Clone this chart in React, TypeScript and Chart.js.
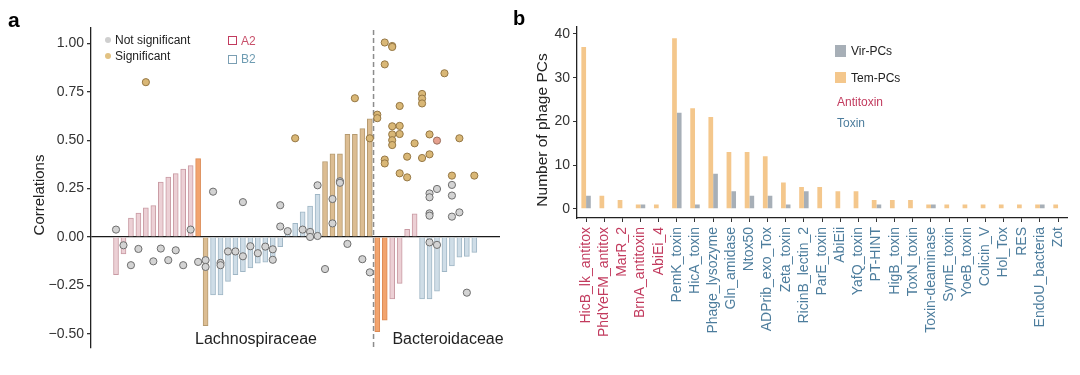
import React, { useEffect, useRef } from 'react';
import { Chart, registerables } from 'chart.js';
Chart.register(...registerables);

const FONT = '"Liberation Sans", Arial, Helvetica, sans-serif';

// ---------- Panel a data ----------
const corrValues = [
  -0.195, -0.088, 0.098, 0.124, 0.15, 0.162, 0.283, 0.31, 0.327, 0.351, 0.369, 0.405,
  -0.458, -0.3, -0.3, -0.23, -0.195, -0.18, -0.16, -0.136, -0.13, -0.11, -0.05, 0.035,
  0.07, 0.13, 0.16, 0.22, 0.39, 0.43, 0.43, 0.53, 0.53, 0.56, 0.61,
  -0.49, -0.43, -0.32, -0.24, 0.04, 0.12, -0.32, -0.32, -0.28, -0.18, -0.15, -0.105, -0.1, -0.08,
];
const corrGroup = [
  'A2', 'A2', 'A2', 'A2', 'A2', 'A2', 'A2', 'A2', 'A2', 'A2', 'A2', 'A2',
  'B2', 'B2', 'B2', 'B2', 'B2', 'B2', 'B2', 'B2', 'B2', 'B2', 'B2', 'B2',
  'B2', 'B2', 'B2', 'B2', 'B2', 'B2', 'B2', 'B2', 'B2', 'B2', 'B2',
  'A2', 'A2', 'A2', 'A2', 'A2', 'A2', 'B2', 'B2', 'B2', 'B2', 'B2', 'B2', 'B2', 'B2',
];
const corrSig = [
  0, 0, 0, 0, 0, 0, 0, 0, 0, 0, 0, 1,
  1, 0, 0, 0, 0, 0, 0, 0, 0, 0, 0, 0,
  0, 0, 0, 0, 1, 1, 1, 1, 1, 1, 1,
  1, 1, 0, 0, 0, 0, 0, 0, 0, 0, 0, 0, 0, 0,
];
const nsIdx = [0, 1, 2, 3, 5, 6, 7, 8, 9, 10, 11, 12, 12, 13, 14, 14, 15, 16, 17, 17, 18, 19, 20, 21, 21, 22, 22, 23, 25, 26, 26, 27, 27, 28, 29, 29, 30, 30, 31, 33, 34, 42, 42, 42, 42, 42, 43, 43, 45, 45, 45, 46, 47];
const nsVal = [0.038, -0.043, -0.146, -0.062, -0.126, -0.06, -0.12, -0.069, -0.146, 0.038, -0.129, -0.12, -0.155, 0.234, -0.134, -0.146, -0.075, -0.075, 0.18, -0.1, -0.048, -0.084, -0.05, -0.064, -0.118, 0.164, 0.054, 0.03, 0.038, 0.026, 0.0, 0.267, 0.005, -0.166, 0.196, 0.07, 0.288, 0.28, -0.036, -0.115, -0.183, 0.225, 0.205, 0.122, 0.11, -0.028, 0.248, -0.041, 0.269, 0.214, 0.105, 0.127, -0.288];
const sigIdx = [4, 24, 32, 34, 35, 35, 36, 36, 36, 36, 37, 37, 37, 37, 37, 37, 38, 38, 38, 38, 39, 39, 40, 41, 41, 41, 41, 42, 42, 44, 45, 46, 48];
const sigVal = [0.8, 0.51, 0.717, 0.51, 0.632, 0.614, 1.005, 0.892, 0.4, 0.38, 0.987, 0.982, 0.572, 0.53, 0.5, 0.475, 0.677, 0.574, 0.532, 0.329, 0.415, 0.308, 0.484, 0.739, 0.715, 0.69, 0.408, 0.53, 0.427, 0.846, 0.317, 0.51, 0.317];
const mixIdx = [43];
const mixVal = [0.498];
const corrTicks = [-0.5, -0.25, 0, 0.25, 0.5, 0.75, 1.0];
const dividerIndex = 34.5;

// ---------- Panel b data ----------
const pcLabels = [
  'HicB_lk_antitox', 'PhdYeFM_antitox', 'MarR_2', 'BrnA_antitoxin', 'AbiEi_4',
  'PemK_toxin', 'HicA_toxin', 'Phage_lysozyme', 'Gln_amidase', 'Ntox50', 'ADPrib_exo_Tox',
  'Zeta_toxin', 'RicinB_lectin_2', 'ParE_toxin', 'AbiEii', 'YafQ_toxin', 'PT-HINT',
  'HigB_toxin', 'ToxN_toxin', 'Toxin-deaminase', 'SymE_toxin', 'YoeB_toxin', 'Colicin_V',
  'Hol_Tox', 'RES', 'EndoU_bacteria', 'Zot',
];
const pcType = [
  'Antitoxin', 'Antitoxin', 'Antitoxin', 'Antitoxin', 'Antitoxin',
  'Toxin', 'Toxin', 'Toxin', 'Toxin', 'Toxin', 'Toxin', 'Toxin', 'Toxin', 'Toxin', 'Toxin',
  'Toxin', 'Toxin', 'Toxin', 'Toxin', 'Toxin', 'Toxin', 'Toxin', 'Toxin', 'Toxin', 'Toxin',
  'Toxin', 'Toxin',
];
const temPCs = [37, 3, 2, 1, 1, 39, 23, 21, 13, 13, 12, 6, 5, 5, 4, 4, 2, 2, 2, 1, 1, 1, 1, 1, 1, 1, 1];
const virPCs = [3, 0, 0, 1, 0, 22, 1, 8, 4, 3, 3, 1, 4, 0, 0, 0, 1, 0, 0, 1, 0, 0, 0, 0, 0, 1, 0];
const pcTicks = [0, 10, 20, 30, 40];

// ---------- colours ----------
const C_A2 = '#ecd0d5';
const C_A2_B = '#c99aa3';
const C_B2 = '#cfdde7';
const C_B2_B = '#9fb6c5';
const C_A2_SIG = '#f2a46e';
const C_A2_SIG_B = '#dc8a54';
const C_B2_SIG = '#dcbd92';
const C_B2_SIG_B = '#b59a70';
const C_TEM = '#f4c78c';
const C_VIR = '#a7afb7';
const C_ANTI = '#c23b5e';
const C_TOX = '#4d7d9d';

const fmtCorr = (v: number) => (v < 0 ? '\u2212' + Math.abs(v).toFixed(2) : v.toFixed(2));

const dividerPlugin = {
  id: 'divider',
  afterDatasetDraw(chart: any, args: any) {
    if (chart.data.datasets[args.index].type !== 'bar') return;
    const { ctx, chartArea, scales } = chart;
    const x = scales.x.getPixelForValue(dividerIndex);
    ctx.save();
    ctx.strokeStyle = '#8c8c8c';
    ctx.lineWidth = 1.5;
    ctx.setLineDash([5, 3]);
    ctx.beginPath();
    ctx.moveTo(x, chartArea.top + 2);
    ctx.lineTo(x, chartArea.bottom);
    ctx.stroke();
    ctx.restore();
  },
};

function Txt(props: { x: number; y: number; size: number; color?: string; bold?: boolean; center?: boolean; rotate?: boolean; children: any }) {
  const { x, y, size, color = '#222', bold, center, rotate, children } = props;
  const tr = rotate ? 'translate(-50%,-50%) rotate(-90deg)' : center ? 'translate(-50%,-50%)' : 'translate(0,-50%)';
  return (
    <div style={{ position: 'absolute', left: x, top: y, transform: tr, fontSize: size, color, fontWeight: bold ? 700 : 400, whiteSpace: 'nowrap', lineHeight: 1, fontFamily: FONT }}>
      {children}
    </div>
  );
}

export default function App() {
  const refA = useRef<HTMLCanvasElement>(null);
  const refB = useRef<HTMLCanvasElement>(null);

  useEffect(() => {
    const barColors = corrValues.map((_, i) => corrGroup[i] === 'A2' ? (corrSig[i] ? C_A2_SIG : C_A2) : (corrSig[i] ? C_B2_SIG : C_B2));
    const barBorders = corrValues.map((_, i) => corrGroup[i] === 'A2' ? (corrSig[i] ? C_A2_SIG_B : C_A2_B) : (corrSig[i] ? C_B2_SIG_B : C_B2_B));
    const pts = (idx: number[], val: number[]) => idx.map((x, i) => ({ x, y: val[i] }));

    const chartA = new Chart(refA.current as HTMLCanvasElement, {
      type: 'bar',
      data: {
        datasets: [
          {
            type: 'scatter',
            data: pts(nsIdx, nsVal),
            backgroundColor: '#d3d3d3',
            borderColor: '#6e6e6e',
            pointRadius: 3.6,
            borderWidth: 1,
            order: 1,
          } as any,
          {
            type: 'scatter',
            data: pts(sigIdx, sigVal),
            backgroundColor: '#d9b776',
            borderColor: '#957744',
            pointRadius: 3.6,
            borderWidth: 1,
            order: 1,
          } as any,
          {
            type: 'scatter',
            data: pts(mixIdx, mixVal),
            backgroundColor: '#e6a08e',
            borderColor: '#9a6f5e',
            pointRadius: 3.6,
            borderWidth: 1,
            order: 1,
          } as any,
          {
            type: 'bar',
            data: corrValues.map((y, x) => ({ x, y })),
            backgroundColor: barColors,
            borderColor: barBorders,
            borderWidth: 1,
            barThickness: 5,
            order: 2,
          } as any,
        ],
      },
      options: {
        animation: false,
        responsive: false,
        events: [],
        layout: { padding: { left: 0, right: 20, top: 28, bottom: 27 } },
        plugins: { legend: { display: false }, tooltip: { enabled: false } },
        scales: {
          x: { type: 'linear', min: -3.35, max: 51.44, display: false, offset: false },
          y: {
            min: -0.574,
            max: 1.08,
            afterFit: (s: any) => { s.width = 91; },
            afterBuildTicks: (s: any) => { s.ticks = corrTicks.map((v) => ({ value: v })); },
            ticks: { callback: (v: any) => fmtCorr(Number(v)), font: { family: FONT, size: 14 }, color: '#333', padding: 3 },
            grid: {
              color: (c: any) => (c.tick && c.tick.value === 0 ? '#1a1a1a' : 'rgba(0,0,0,0)'),
              tickColor: '#333',
              tickLength: 4,
              lineWidth: 1.3,
            },
            border: { display: true, color: '#222', width: 1.3 },
          },
        },
      } as any,
      plugins: [dividerPlugin],
    });

    const chartB = new Chart(refB.current as HTMLCanvasElement, {
      type: 'bar',
      data: {
        labels: pcLabels,
        datasets: [
          { label: 'Tem-PCs', data: temPCs, backgroundColor: C_TEM, borderWidth: 0, categoryPercentage: 0.52, barPercentage: 1.0 },
          { label: 'Vir-PCs', data: virPCs, backgroundColor: C_VIR, borderWidth: 0, categoryPercentage: 0.52, barPercentage: 1.0 },
        ],
      },
      options: {
        animation: false,
        responsive: false,
        events: [],
        layout: { padding: { left: 0, right: 8, top: 27, bottom: 0 } },
        plugins: { legend: { display: false }, tooltip: { enabled: false } },
        scales: {
          x: {
            type: 'category',
            afterFit: (s: any) => { s.height = 157; },
            ticks: {
              autoSkip: false,
              maxRotation: 90,
              minRotation: 90,
              padding: 5,
              font: { family: FONT, size: 14 },
              color: (c: any) => (pcType[c.index] === 'Antitoxin' ? C_ANTI : C_TOX),
            },
            grid: { drawOnChartArea: false, tickLength: 4, tickColor: '#333', offset: false },
            border: { display: true, color: '#222', width: 1.3 },
          },
          y: {
            min: -2.1,
            max: 41.6,
            afterFit: (s: any) => { s.width = 57; },
            afterBuildTicks: (s: any) => { s.ticks = pcTicks.map((v) => ({ value: v })); },
            ticks: { font: { family: FONT, size: 14 }, color: '#333', padding: 3 },
            grid: { drawOnChartArea: false, tickLength: 4, tickColor: '#333' },
            border: { display: true, color: '#222', width: 1.3 },
          },
        },
      } as any,
    });

    return () => {
      chartA.destroy();
      chartB.destroy();
    };
  }, []);

  return (
    <div style={{ position: 'absolute', left: 0, top: 0, width: 1080, height: 375, background: '#fff', overflow: 'hidden', fontFamily: FONT }}>
      <canvas ref={refA} width={520} height={375} style={{ position: 'absolute', left: 0, top: 0 }} />
      <canvas ref={refB} width={560} height={375} style={{ position: 'absolute', left: 520, top: 0 }} />

      {/* panel labels */}
      <Txt x={8} y={19} size={21} color="#000" bold>a</Txt>
      <Txt x={513} y={18} size={20} color="#000" bold>b</Txt>

      {/* panel a titles */}
      <Txt x={38} y={195} size={15} color="#222" rotate>Correlations</Txt>
      <Txt x={256} y={339} size={16} color="#222" center>Lachnospiraceae</Txt>
      <Txt x={448} y={339} size={16} color="#222" center>Bacteroidaceae</Txt>

      {/* panel a legend */}
      <div style={{ position: 'absolute', left: 105, top: 37, width: 6, height: 6, borderRadius: 3, background: '#cfcfcf' }} />
      <Txt x={115} y={40} size={12}>Not significant</Txt>
      <div style={{ position: 'absolute', left: 105, top: 52.5, width: 6, height: 6, borderRadius: 3, background: '#e2c283' }} />
      <Txt x={115} y={55.5} size={12}>Significant</Txt>
      <div style={{ position: 'absolute', left: 228, top: 36, width: 7, height: 7, border: '1.3px solid ' + C_ANTI }} />
      <Txt x={241} y={40.5} size={12} color="#c8506a">A2</Txt>
      <div style={{ position: 'absolute', left: 228, top: 54.5, width: 7, height: 7, border: '1.3px solid #7b9fb3' }} />
      <Txt x={241} y={59} size={12} color="#6e9cb2">B2</Txt>

      {/* panel b title & legend */}
      <Txt x={541.5} y={130} size={15.5} color="#222" rotate>Number of phage PCs</Txt>
      <div style={{ position: 'absolute', left: 835, top: 45, width: 11, height: 12, background: C_VIR }} />
      <Txt x={851} y={51} size={12}>Vir-PCs</Txt>
      <div style={{ position: 'absolute', left: 835, top: 72, width: 11, height: 11, background: C_TEM }} />
      <Txt x={851} y={78} size={12}>Tem-PCs</Txt>
      <Txt x={837} y={102} size={12} color={C_ANTI}>Antitoxin</Txt>
      <Txt x={837} y={123} size={12} color={C_TOX}>Toxin</Txt>
    </div>
  );
}
